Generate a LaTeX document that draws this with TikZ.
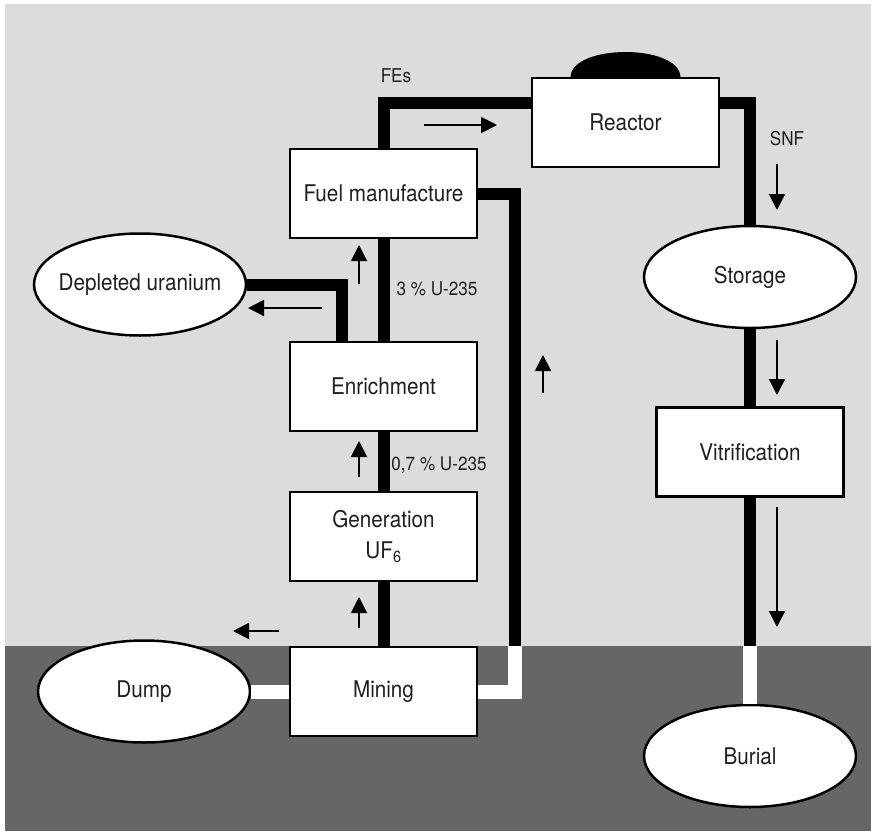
\documentclass[tikz,border=0pt]{standalone}
\usepackage{fontspec}
\setmainfont{TeX Gyre Heros}[FakeStretch=0.9]
\usetikzlibrary{shapes.geometric, arrows.meta}
\definecolor{sky}{gray}{0.863}
\definecolor{earth}{gray}{0.40}
\definecolor{ink}{gray}{0.12}
\tikzset{
  stage/.style={rectangle, minimum width=187pt, minimum height=89pt, draw=black, line width=2.5pt, fill=white, text=ink, align=center, font=\fontsize{23}{31}\selectfont},
  oval/.style={ellipse, minimum width=212pt, minimum height=102pt, inner xsep=-30pt, draw=black, line width=2.5pt, fill=white, text=ink, font=\fontsize{23}{26}\selectfont},
  tag/.style={text=ink, font=\fontsize{19}{22}\selectfont},
  pipe/.style={line width=12pt, line join=miter, draw=black},
  whitepipe/.style={line width=14pt, line join=miter, draw=white},
  flow/.style={-{Triangle[length=16pt,width=16pt]}, line width=2pt, draw=black}
}

\begin{document}
\begin{tikzpicture}[x=1pt, y=-1pt, node distance=150pt]
\useasboundingbox (0,0) rectangle (871,831);
\fill[white] (0,0) rectangle (871,831);
\fill[sky] (5,4) rectangle (871,646);
\fill[earth] (5,646) rectangle (871,831);
\coordinate (ground) at (0,646);

\node (fuel) [stage] at (383.5,193.5) {Fuel manufacture};

\node (enr) [stage, below of=fuel, yshift=-43pt] {Enrichment};

\node (gen) [stage, below of=enr] {Generation\\UF\textsubscript{6}};

\node (mining) [stage, below of=gen, yshift=-5pt] {Mining};

\node (reactor) [stage, right of=fuel, xshift=92pt, yshift=71pt] {Reactor};

\node (storage) [oval, below of=reactor, xshift=124.5pt, yshift=-4.5pt] {Storage};

\node (vitr) [stage, below of=storage, yshift=-25pt] {Vitrification};

\node (burial) [oval, below of=vitr, yshift=-154pt] {Burial};

\node (du) [oval, left of=fuel, xshift=-93.5pt, yshift=-91pt] {Depleted uranium};

\node (dump) [oval, left of=mining, xshift=-89.5pt] {Dump};

\coordinate (loop) at (515,646);

% reactor dome
\fill ([xshift=-55pt]reactor.north) .. controls +(2,-33) and +(-2,-33) .. ([xshift=55pt]reactor.north) -- cycle;

% flow lines
\draw [pipe] (fuel.north) |- ([yshift=-26pt]reactor.north west);

\draw [pipe] ([yshift=-26pt]reactor.north east) -| (storage.north);

\draw [pipe] (storage.south) -- (vitr.north);

\draw [pipe] (vitr.south) -- (vitr.south |- ground);

\draw [whitepipe] (vitr.south |- ground) -- (burial.north);

\draw [pipe] (fuel.east) -| (loop);

\draw [whitepipe] (loop) |- (mining.east);

\draw [pipe] (mining.north) -- (gen.south);

\draw [pipe] (gen.north) -- (enr.south);

\draw [pipe] (enr.north) -- (fuel.south);

\draw [pipe] ([xshift=-42pt]enr.north) |- (du.east);

\draw [whitepipe] (mining.west) -- (dump.east);

% direction arrows
\draw [flow] (424,125) -- (497,125);
\draw [flow] (777,164) -- (777,210);
\draw [flow] (777,340) -- (777,395);
\draw [flow] (777,507) -- (777,627);
\draw [flow] (543,393) -- (543,355);
\draw [flow] (359,284) -- (359,245);
\draw [flow] (359,477) -- (359,441);
\draw [flow] (359,628) -- (359,597);
\draw [flow] (322,308) -- (248,308);
\draw [flow] (279,631) -- (233,631);

% labels
\node (fes) [tag] at (396,76) {FEs};
\node (snf) [tag] at (787,139) {SNF};
\node (pct3) [tag] at (437,289) {3 \% U-235};
\node (pct07) [tag] at (439,465) {0,7 \% U-235};

\end{tikzpicture}
\end{document}
